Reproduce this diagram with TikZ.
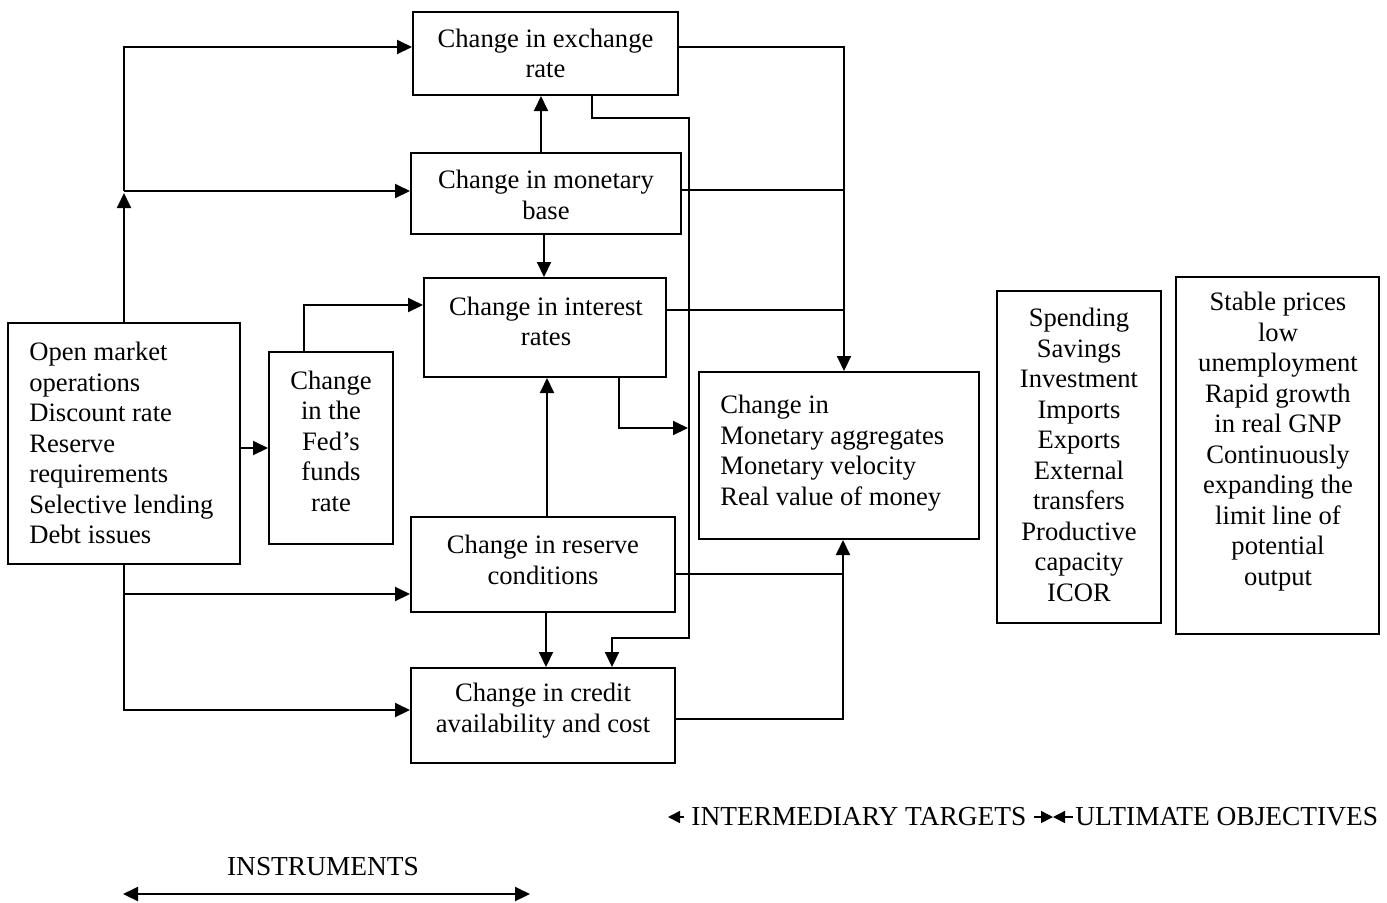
\documentclass[tikz,border=0pt]{standalone}
\usepackage{fontspec}
\setmainfont{Liberation Serif}
\usetikzlibrary{arrows.meta,calc}
\begin{document}
\begin{tikzpicture}[x=0.5pt,y=-0.5pt,
  box/.style={draw,line width=1pt,inner sep=0pt},
  txt/.style={inner sep=0pt,align=center,font=\fontsize{13.3}{15.25}\selectfont},
  ltxt/.style={txt,align=left,anchor=west},
  link/.style={line width=1pt},
  arr/.style={link,-{Triangle[length=7.5pt,width=7pt]}},
  sarr/.style={line width=0.8pt,-{Triangle[length=6pt,width=6pt]}},
  tag/.style={inner sep=0pt,inner xsep=3.5pt,font=\fontsize{13.7}{15.5}\selectfont}]
\useasboundingbox (0,0) rectangle (1387,902);

% boxes
\node[box,minimum width=132.5pt,minimum height=41.5pt] (ex) at (545.5,53.5) {};
\node[box,minimum width=135pt,minimum height=40.5pt] (mb) at (546,193.5) {};
\node[box,minimum width=121pt,minimum height=49.5pt] (ir) at (545,327.5) {};
\node[box,minimum width=132pt,minimum height=47.5pt] (rc) at (543,564.5) {};
\node[box,minimum width=132pt,minimum height=47.5pt] (cr) at (543,715.5) {};
\node[box,minimum width=116pt,minimum height=120.5pt] (om) at (124,443.5) {};
\node[box,minimum width=62pt,minimum height=96pt] (fed) at (331,448) {};
\node[box,minimum width=140pt,minimum height=83.5pt] (ag) at (839,455.5) {};
\node[box,minimum width=82pt,minimum height=166pt] (sp) at (1079,457) {};
\node[box,minimum width=101.5pt,minimum height=178.5pt] (st) at (1277.5,455.5) {};

% box texts
\node[txt] (exT) at (545.5,53.5) {Change in exchange\\rate};
\node[txt] (mbT) at (546,195) {Change in monetary\\base};
\node[txt] (irT) at (546,321.5) {Change in interest\\rates};
\node[txt] (rcT) at (543,560) {Change in reserve\\conditions};
\node[txt] (crT) at (543,710.5) {Change in credit\\availability and cost};
\node[ltxt] (omT) at (29,443) {Open market\\operations\\Discount rate\\Reserve\\requirements\\Selective lending\\Debt issues};
\node[txt] (fedT) at (331,441) {Change\\in the\\Fed’s\\funds\\rate};
\node[ltxt] (agT) at (720,453) {Change in\\Monetary aggregates\\Monetary velocity\\Real value of money};
\node[txt] (spT) at (1079,455) {Spending\\Savings\\Investment\\Imports\\Exports\\External\\transfers\\Productive\\capacity\\ICOR};
\node[txt] (stT) at (1278,441.5) {Stable prices\\low\\unemployment\\Rapid growth\\in real GNP\\Continuously\\expanding the\\limit line of\\potential\\output};

% junctions and ports
\coordinate (jn) at (124,191);
\coordinate (mbup) at ([xshift=-2.5pt]mb.north);
\coordinate (mbdn) at ([xshift=-1pt]mb.south);
\coordinate (agin) at ([xshift=2.5pt]ag.north);
\coordinate (mbout) at ([yshift=1.75pt]mb.east);
\coordinate (irout) at ([yshift=8.75pt]ir.east);
\coordinate (exdn) at ([xshift=23.25pt]ex.south);
\coordinate (bendA) at (689,118);
\coordinate (bendB) at (689,638);
\coordinate (crin) at ([xshift=34.5pt]cr.north);
\coordinate (fedup) at ([xshift=-13.5pt]fed.north);
\coordinate (irin) at ([yshift=11.25pt]ir.west);
\coordinate (crw) at ([yshift=2.75pt]cr.west);
\coordinate (rcw) at ([yshift=-14.75pt]rc.west);
\coordinate (rcup) at ([xshift=2pt]rc.north);
\coordinate (rcdn) at ([xshift=1.5pt]rc.south);
\coordinate (irdn) at ([xshift=37pt]ir.south);
\coordinate (irtip) at (688,428);
\coordinate (rce) at ([yshift=-4.75pt]rc.east);
\coordinate (agbot) at ([xshift=2pt]ag.south);
\coordinate (cre) at ([yshift=-1.75pt]cr.east);

% instruments to targets
\draw[arr] (om.north) -- ([yshift=-1pt]jn);
\draw[arr] (jn) |- ([yshift=3.25pt]ex.west);
\draw[arr] (jn) -- (jn -| mb.west);
\draw[arr] (om.east |- fed.west) -- (fed.west);
\draw[arr] (fedup) |- (irin);
\draw[arr] (om.south) |- (crw);
\draw[arr] (om.south |- rcw) -- (rcw);

% links between targets
\draw[arr] (mbup) -- (mbup |- ex.south);
\draw[arr] (mbdn) -- (mbdn |- ir.north);
\draw[arr] (rcup) -- (rcup |- ir.south);
\draw[arr] (rcdn) -- (rcdn |- cr.north);
\draw[arr] (exdn) |- (bendA) -- (bendB) -| (crin);
\draw[arr] (irdn) |- (irtip);

% into the aggregates
\draw[arr] ([yshift=3.25pt]ex.east) -| (agin);
\draw[link] (mbout) -- (mbout -| agin);
\draw[link] (irout) -- (irout -| agin);
\draw[link] (rce) -- (rce -| agbot);
\draw[arr] (cre) -| (agbot);

% stage labels
\node[tag,anchor=west] (it) at (684,817) {INTERMEDIARY TARGETS};
\node[tag,anchor=west,inner xsep=1pt] (uo) at (1073,817) {ULTIMATE OBJECTIVES};
\coordinate (itL) at (668,817);
\coordinate (mid) at (1053,817);
\draw[sarr] (it.west) -- (itL);
\draw[sarr] (it.east) -- (mid);
\draw[sarr] (uo.west) -- (mid);

\node[tag] (ins) at (323,867) {INSTRUMENTS};
\coordinate (insL) at (123,894);
\coordinate (insR) at (530,894);
\draw[link,{Triangle[length=7.5pt,width=7pt]}-{Triangle[length=7.5pt,width=7pt]}] (insL) -- (insR);
\end{tikzpicture}
\end{document}
